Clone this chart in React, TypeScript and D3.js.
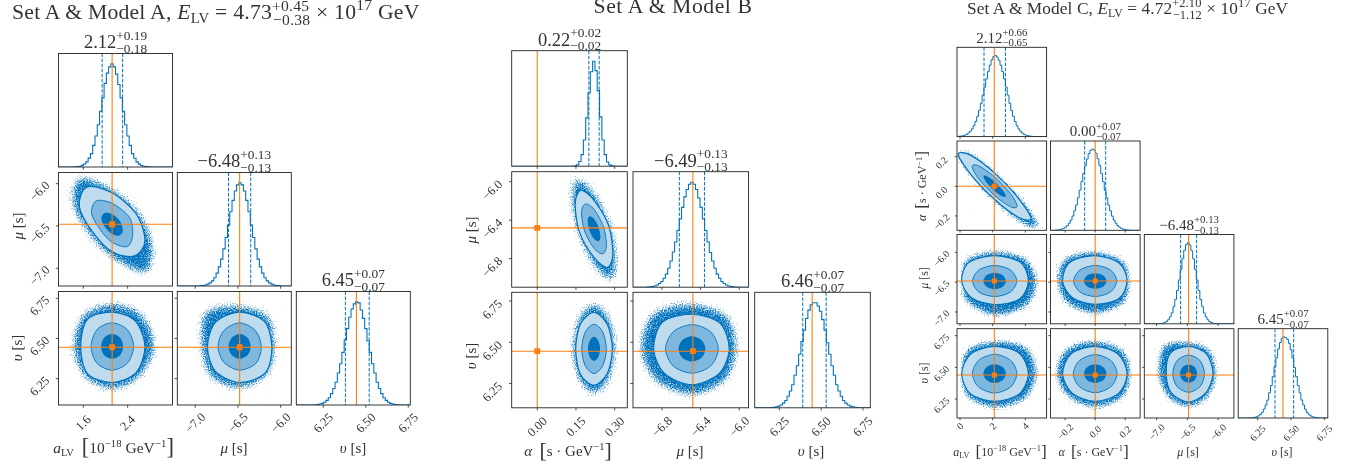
import * as d3 from 'd3';

// posterior medians and errors quoted in the panel titles
const medA = [2.12, -6.48, 6.45];
const plusA = [0.19, 0.13, 0.07];
const minusA = [0.18, 0.13, 0.07];
const truthA = [2.12, -6.48, 6.445];
const sigmaA = [0.185, 0.13, 0.07];
const rangesA = [[1.152, 3.21], [-7.21, -5.875], [6.091, 6.762]];
const rangesYA = [[0, 0], [-7.21, -5.868], [6.086, 6.792]];
const ticksA = [[1.6, 2.4], [-7.0, -6.5, -6.0], [6.25, 6.5, 6.75]];
const decimalsA = [1, 1, 2];

const medB = [0.22, -6.49, 6.46];
const plusB = [0.02, 0.13, 0.07];
const minusB = [0.02, 0.13, 0.07];
const truthB = [0, -6.48, 6.446];
const sigmaB = [0.0235, 0.13, 0.07];
const rangesB = [[-0.099, 0.349], [-7.1, -5.903], [6.1025, 6.794]];
const rangesYB = [[0, 0], [-7.097, -5.896], [6.103, 6.803]];
const ticksB = [[0, 0.15, 0.3], [-6.8, -6.4, -6.0], [6.25, 6.5, 6.75]];
const decimalsB = [2, 1, 2];

const medC = [2.12, 0.0, -6.48, 6.45];
const plusC = [0.66, 0.07, 0.13, 0.07];
const minusC = [0.65, 0.07, 0.13, 0.07];
const truthC = [2.1, 0, -6.48, 6.44];
const sigmaC = [0.655, 0.07, 0.13, 0.07];
const rangesC = [[-0.184, 5.3], [-0.2975, 0.299], [-7.2, -5.744], [6.104, 6.776]];
const rangesYC = [[0, 0], [-0.297, 0.306], [-7.198, -5.7], [6.1, 6.805]];
const ticksC = [[0, 2, 4], [-0.2, 0, 0.2], [-7.0, -6.5, -6.0], [6.25, 6.5, 6.75]];
const decimalsC = [0, 1, 1, 2];

// 50-bin marginals, % of the tallest bin; bins past the end of a list are empty
const histA0 = [0, 0, 0, 0, 0, 0, 0, 0.1, 0.4, 0.8, 1.6, 2.9, 5, 8.6, 13, 21, 30, 41, 54, 67, 81, 91, 97, 100, 97, 90, 80, 67, 54, 41, 30, 21, 13, 8.5, 5, 2.8, 1.5, 0.8, 0.4, 0.2];
const histA1 = [0, 0, 0, 0, 0, 0, 0, 0, 0, 0, 0.2, 0.5, 1, 1.8, 3, 5, 8, 12.5, 18.5, 26, 36, 47, 59, 72, 83, 92, 98, 100, 98, 92, 83, 72, 59, 47, 36, 26, 18.5, 12.5, 8, 5, 3, 1.8, 1, 0.5, 0.2];
const histA2 = [0, 0, 0, 0, 0, 0, 0, 0, 0.2, 0.5, 0.9, 1.6, 2.7, 4.5, 7, 11, 16, 22, 31, 40, 51, 63, 74, 85, 93, 98, 100, 99, 92, 84, 74, 62, 51, 40, 31, 22, 16, 11, 7, 4.5, 2.7, 1.6, 0.9, 0.5, 0.2];
const histB0 = [0, 0, 0, 0, 0, 0, 0, 0, 0, 0, 0, 0, 0, 0, 0, 0, 0, 0, 0, 0, 0, 0, 0, 0, 0, 0, 0, 0.3, 1.3, 4.5, 11, 25, 46, 70, 90, 100, 91, 72, 47, 25, 11, 4, 1.3, 0.3];
const histB1 = [0, 0, 0, 0, 0, 0, 0.1, 0.3, 0.7, 1.2, 2.1, 3.5, 5.5, 8.5, 12.5, 18, 25, 33.5, 43, 54, 65, 76, 86, 93, 98, 100, 98, 93, 85, 76, 65, 54, 43, 33, 25, 18, 12.5, 8.5, 5.5, 3.5, 2.1, 1.2, 0.7, 0.3, 0.1];
const histB2 = [0, 0, 0, 0, 0, 0, 0, 0.2, 0.5, 0.9, 1.6, 2.7, 4.5, 7, 11, 16, 22, 31, 40, 51, 63, 74, 85, 93, 98, 100, 100, 97, 92, 84, 74, 62, 51, 40, 31, 22, 16, 11, 7, 4.5, 2.7, 1.6, 0.9, 0.5, 0.2];
const histC0 = [0.2, 0.4, 0.7, 1.1, 1.8, 2.9, 4.4, 6.6, 9.5, 13.5, 18.6, 25, 32, 41, 51, 61, 71, 80, 88, 94.6, 98.6, 100, 98, 94, 88, 80, 71, 61, 51, 41, 32, 25, 18.6, 13.5, 9.5, 6.6, 4.4, 2.9, 1.8, 1.1, 0.7, 0.4, 0.2];
const histC1 = [0, 0, 0, 0.3, 0.5, 0.9, 1.5, 2.5, 3.9, 5.9, 8.7, 12.5, 17.5, 24, 31, 40, 49.5, 60, 70, 79.5, 87.8, 94.4, 98.6, 100, 99, 95, 88, 80, 70, 60, 49, 40, 31, 24, 17.5, 12.5, 8.7, 5.9, 3.9, 2.5, 1.5, 0.9, 0.5, 0.3];
const histC2 = [0, 0, 0, 0, 0, 0, 0, 0, 0.2, 0.4, 0.8, 1.5, 2.8, 5, 8.5, 13.5, 21, 30, 41, 54, 67, 80, 90.6, 97.6, 100, 97, 90, 80, 67, 54, 41, 30, 21, 13.5, 8.5, 5, 2.8, 1.5, 0.8, 0.4, 0.2];
const histC3 = [0, 0, 0, 0, 0, 0, 0, 0.2, 0.5, 0.9, 1.6, 2.7, 4.5, 7, 11, 16, 22, 31, 40, 51, 63, 74, 85, 93, 98, 100, 99, 97, 92, 84, 74, 62, 51, 40, 31, 22, 16, 11, 7, 4.5, 2.7, 1.6, 0.9, 0.5, 0.2];

// contour radii in sigmas around the median, going E, NE, N, NW, W, SW, S, SE:
// inner, middle, outer contour, then the edge of the sample cloud
const ringsA_aMu = [[1.05, 1.1, 1.05, 1.05, 1.05, 1, 1.05, 1.05], [2, 2.4, 2.2, 2.2, 2, 1.7, 1.9, 2.1], [3.2, 3.4, 3.3, 3.5, 3.2, 2.7, 2.9, 3], [4.5, 4.3, 4.2, 5, 4.4, 3.7, 4, 5.2]];
const rhoA_aMu = -0.5;
const ringsA_aV = [[1.08, 1.1, 1.1, 1.1, 1.08, 1.1, 1.1, 1.1], [2.1, 2.1, 2.1, 2.1, 2.05, 2.1, 2.1, 2.1], [3.2, 3.2, 3.05, 3.4, 3.07, 3.4, 3.2, 3.3], [4.7, 4.6, 4.3, 4.5, 4.3, 4.3, 4.3, 4.3]];
const ringsA_muV = [[1, 1.05, 1.1, 1.05, 1, 1.05, 1.1, 1.05], [1.95, 2, 2.1, 2, 1.95, 2, 2.1, 2.1], [2.9, 3.15, 3.05, 3.05, 2.9, 3.1, 3.2, 3.3], [3.6, 4.2, 4.1, 4.9, 3.9, 4.25, 4.2, 4]];

const ringsB_alMu = [[1.05, 1.1, 1.05, 1, 1.05, 1.1, 1.05, 1], [2.05, 2.2, 2.05, 2, 2.05, 2.2, 2.05, 2], [3.1, 3.4, 3, 3.1, 3.1, 3.4, 3, 3.1], [4.2, 4.4, 4.4, 4.6, 4.2, 4.3, 4.4, 4.7]];
const rhoB_alMu = -0.65;
const ringsB_alV = [[1, 1, 1.05, 1, 1, 1, 1.05, 1], [2.03, 2.05, 2.13, 2.05, 2.03, 2.05, 2.13, 2.05], [3.02, 3.05, 3.15, 3.1, 3.02, 3.15, 3.15, 3.05], [4, 4.2, 4.45, 4.2, 4, 4.1, 4.45, 4.1]];
const ringsB_muV = [[1.07, 1.08, 1.09, 1.08, 1.07, 1.08, 1.09, 1.08], [2.1, 2.1, 2.1, 2.1, 2.1, 2.1, 2.1, 2.1], [2.97, 3.15, 3, 3.3, 3.05, 3.05, 3.1, 3.05], [4, 4.5, 4.4, 4.9, 4.6, 4.5, 4.5, 4.3]];

const ringsC_aAl = [[1.05, 1.05, 1.05, 1.05, 1.05, 1.05, 1.05, 1.05], [2.1, 2.1, 2.1, 2.1, 2.1, 2.1, 2.1, 2.1], [3.4, 3, 3, 3.2, 3.4, 3, 3, 3.2], [4.7, 3.8, 3.7, 3.9, 3.8, 3.6, 3.7, 4.5]];
const rhoC_aAl = -0.905;
const ringsC_aMu = [[1.05, 1.06, 1.07, 1.06, 1.05, 1.06, 1.07, 1.06], [2.07, 2.05, 2, 2.05, 2.07, 2.05, 2, 2.05], [3.15, 3.4, 3.27, 3.4, 3.08, 3.05, 3.05, 3.3], [4.4, 4.6, 4.35, 4.3, 3.4, 4.2, 5, 4.9]];
const ringsC_alMu = [[1.07, 1.05, 1, 1.05, 1.07, 1.05, 1, 1.05], [2.05, 2.03, 2, 2.03, 2.05, 2.03, 2, 2.03], [3.03, 3.25, 3.27, 3.4, 3.1, 3.05, 3, 3.2], [3.6, 4.2, 4.26, 4.6, 4, 4.4, 4.77, 4.4]];
const ringsC_muV = [[1.08, 1.05, 1.02, 1.05, 1.08, 1.05, 1.02, 1.05], [1.98, 2.05, 2.1, 2.05, 1.98, 2.05, 2.1, 2.05], [3.05, 3.15, 3.08, 3.25, 2.8, 3.05, 3.2, 3.05], [3.9, 4.2, 4, 5, 4.25, 4.2, 4.25, 4]];
const ringsC_aV = [[1.05, 1.05, 1.05, 1.05, 1.05, 1.05, 1.05, 1.05], [2.07, 2.12, 2.18, 2.12, 2.07, 2.12, 2.18, 2.12], [3.15, 3.25, 3.08, 3.15, 3.08, 3.2, 3.12, 3.25], [4.4, 4.7, 4.14, 4.2, 3.4, 4.1, 4.33, 4.5]];
const ringsC_alV = [[1.07, 1.06, 1.05, 1.06, 1.07, 1.06, 1.05, 1.06], [2.08, 2.1, 2.15, 2.1, 2.08, 2.1, 2.15, 2.1], [3.03, 3.1, 3.08, 3.2, 3.1, 3.1, 3.12, 3.15], [3.76, 4.2, 4.14, 4.4, 4.14, 4.1, 4.33, 4.2]];

const BLUE = '#0072bd';
const MID = '#7fb8de';
const LIGHT = '#bfdcef';
const ORANGE = '#ff7f0e';
const INK = '#333';
const FONT = '"Liberation Serif", serif';
// the grain filter spreads past its path, so the cloud path sits inside the read edge
const CLOUD_INSET = 0.9;

type Seg = { t: string; s?: number; o?: number; i?: boolean; dx?: number };

const charWidth = (c: string) => (c === '.' ? 0.25 : c === '+' || c === '\u2212' ? 0.564 : 0.5);
const textWidth = (t: string) => d3.sum(Array.from(t), charWidth);
const minus = (t: string) => t.replace('-', '\u2212');

// one line of text with sizes and baseline shifts, o is measured from the line's baseline
function Rich({ segs, x, y, fs, anchor = 'start', rotate = 0, spacing = 0 }: { segs: Seg[]; x: number; y: number; fs: number; anchor?: string; rotate?: number; spacing?: number }) {
  let prev = 0;
  return (
    <text x={x} y={y} fontSize={fs} fontFamily={FONT} fill={INK} textAnchor={anchor} letterSpacing={spacing} transform={rotate ? `rotate(${rotate},${x},${y})` : undefined} style={{ whiteSpace: 'pre' }}>
      {segs.map((g, i) => {
        const o = (g.o ?? 0) * fs;
        const dy = o - prev;
        prev = o;
        return (
          <tspan key={i} dy={dy} dx={g.dx ? g.dx * fs : undefined} fontSize={(g.s ?? 1) * fs} fontStyle={g.i ? 'italic' : 'normal'}>
            {g.t}
          </tspan>
        );
      })}
    </text>
  );
}

// stacked +err / -err after a number
const scripts = (plus: string, minusText: string, up = 0.46, down = 0.24, s = 0.72): Seg[] => [
  { t: plus, s, o: -up },
  { t: minusText, s, o: down, dx: -textWidth(plus) * s },
];

interface Layout {
  xs: number[];
  ys: number[];
  w: number;
  h: number;
  titleFs: number;
  titleGap: number;
  tickFs: number;
  tickLen: number;
  marker: number;
  xTickDy: number[];
  yTickDx: number;
  yTickDy: number;
  lineW: number;
  grain: string;
}

interface Pair {
  row: number;
  col: number;
  rings: number[][];
  rho?: number;
}

interface CornerProps {
  id: string;
  layout: Layout;
  med: number[];
  plus: number[];
  minusErr: number[];
  truth: number[];
  sigma: number[];
  ranges: number[][];
  rangesY: number[][];
  ticks: number[][];
  decimals: number[];
  hists: number[][];
  pairs: Pair[];
}

function ringPath(radii: number[], rho: number, cx: number, cy: number, sx: number, sy: number, xS: any, yS: any) {
  const s = Math.sqrt(1 - rho * rho);
  const pts = radii.map((r, k) => {
    const th = (k / radii.length) * 2 * Math.PI;
    const u = r * Math.cos(th);
    const w = r * Math.sin(th);
    return [xS(cx + u * sx), yS(cy + (rho * u + s * w) * sy)] as [number, number];
  });
  return d3.line().curve(d3.curveCardinalClosed.tension(0.1))(pts) as string;
}

function Corner({ id, layout: L, med, plus, minusErr, truth, sigma, ranges, rangesY, ticks, decimals, hists, pairs }: CornerProps) {
  const n = med.length;
  const xScale = (c: number) => d3.scaleLinear().domain(ranges[c]).range([L.xs[c], L.xs[c] + L.w]);
  const yScale = (r: number) => d3.scaleLinear().domain(rangesY[r]).range([L.ys[r] + L.h, L.ys[r]]);
  const square = d3.symbol().type(d3.symbolSquare).size(L.marker)() as string;

  const xTicks = (r: number, c: number) => {
    const x = xScale(c);
    const bottom = L.ys[r] + L.h;
    return ticks[c].map((t) => (
      <g key={t}>
        <line x1={x(t)} x2={x(t)} y1={bottom} y2={bottom + L.tickLen} stroke="#222" strokeWidth={0.8} />
        {r === n - 1 && (
          <text x={x(t)} y={bottom + L.xTickDy[c]} fontSize={L.tickFs} fontFamily={FONT} fill={INK} textAnchor="middle" dominantBaseline="central" transform={`rotate(-45,${x(t)},${bottom + L.xTickDy[c]})`}>
            {d3.format(`.${decimals[c]}f`)(t)}
          </text>
        )}
      </g>
    ));
  };

  return (
    <g>
      {/* titles go first so the white axes cut the lower script like in the original */}
      {med.map((m, i) => {
        const base = minus(m.toFixed(2));
        const up = `+${plus[i].toFixed(2)}`;
        const down = `\u2212${minusErr[i].toFixed(2)}`;
        const total = (textWidth(base) + textWidth(up) * 0.72) * L.titleFs;
        return <Rich key={i} x={L.xs[i] + L.w / 2 - total / 2} y={L.ys[i] - L.titleGap} fs={L.titleFs} segs={[{ t: base }, ...scripts(up, down)]} />;
      })}

      {hists.map((h, i) => {
        const x = xScale(i);
        const y = d3.scaleLinear().domain([0, 110]).range([L.ys[i] + L.h, L.ys[i]]);
        const step = (ranges[i][1] - ranges[i][0]) / 50;
        const bins = d3.range(51).map((b) => [ranges[i][0] + b * step, h[b] ?? 0] as [number, number]);
        const line = d3.line<[number, number]>().x((d) => x(d[0])).y((d) => y(d[1])).curve(d3.curveStepAfter);
        const clip = `${id}-h${i}`;
        return (
          <g key={i}>
            <clipPath id={clip}>
              <rect x={L.xs[i]} y={L.ys[i]} width={L.w} height={L.h} />
            </clipPath>
            <rect x={L.xs[i]} y={L.ys[i]} width={L.w} height={L.h} fill="#fff" />
            <g clipPath={`url(#${clip})`}>
              <path d={line(bins) as string} fill="none" stroke={BLUE} strokeWidth={L.lineW} />
              {[med[i] - minusErr[i], med[i] + plus[i]].map((q) => (
                <line key={q} x1={x(q)} x2={x(q)} y1={L.ys[i]} y2={L.ys[i] + L.h} stroke={BLUE} strokeWidth={1} strokeDasharray="3.5,1.6" />
              ))}
              <line x1={x(truth[i])} x2={x(truth[i])} y1={L.ys[i]} y2={L.ys[i] + L.h} stroke={ORANGE} strokeWidth={1.1} />
            </g>
            <rect x={L.xs[i]} y={L.ys[i]} width={L.w} height={L.h} fill="none" stroke="#222" strokeWidth={0.9} />
            {xTicks(i, i)}
          </g>
        );
      })}

      {pairs.map(({ row: r, col: c, rings, rho = 0 }) => {
        const x = xScale(c);
        const y = yScale(r);
        const clip = `${id}-p${r}${c}`;
        const path = (radii: number[]) => ringPath(radii, rho, med[c], med[r], sigma[c], sigma[r], x, y);
        return (
          <g key={clip}>
            <clipPath id={clip}>
              <rect x={L.xs[c]} y={L.ys[r]} width={L.w} height={L.h} />
            </clipPath>
            <rect x={L.xs[c]} y={L.ys[r]} width={L.w} height={L.h} fill="#fff" />
            <g clipPath={`url(#${clip})`}>
              <path d={path(rings[3].map((v) => v * CLOUD_INSET))} fill={BLUE} filter={`url(#${L.grain})`} />
              <path d={path(rings[2])} fill={LIGHT} stroke={BLUE} strokeWidth={1.2} />
              <path d={path(rings[1])} fill={MID} stroke={BLUE} strokeWidth={0.9} />
              <path d={path(rings[0])} fill={BLUE} />
              <line x1={x(truth[c])} x2={x(truth[c])} y1={L.ys[r]} y2={L.ys[r] + L.h} stroke={ORANGE} strokeWidth={1.1} />
              <line x1={L.xs[c]} x2={L.xs[c] + L.w} y1={y(truth[r])} y2={y(truth[r])} stroke={ORANGE} strokeWidth={1.1} />
              <path d={square} fill={ORANGE} transform={`translate(${x(truth[c])},${y(truth[r])})`} />
            </g>
            <rect x={L.xs[c]} y={L.ys[r]} width={L.w} height={L.h} fill="none" stroke="#222" strokeWidth={0.9} />
            {xTicks(r, c)}
            {ticks[r].map((t) => (
              <g key={t}>
                <line x1={L.xs[c] - L.tickLen} x2={L.xs[c]} y1={y(t)} y2={y(t)} stroke="#222" strokeWidth={0.8} />
                {c === 0 && (
                  <text x={L.xs[c] + L.yTickDx} y={y(t) + L.yTickDy} fontSize={L.tickFs} fontFamily={FONT} fill={INK} textAnchor="middle" dominantBaseline="central" transform={`rotate(-45,${L.xs[c] + L.yTickDx},${y(t) + L.yTickDy})`}>
                    {d3.format(`.${decimals[r]}f`)(t)}
                  </text>
                )}
              </g>
            ))}
          </g>
        );
      })}
    </g>
  );
}

const layoutA: Layout = { xs: [58.5, 177.3, 296.3], ys: [53.5, 172.5, 291.5], w: 114, h: 113.5, titleFs: 18.5, titleGap: 5.2, tickFs: 12.5, tickLen: 2.7, marker: 34, xTickDy: [18, 18, 18], yTickDx: -18.8, yTickDy: 7.5, lineW: 1.1, grain: 'grain' };
const layoutB: Layout = { xs: [511.7, 633, 754.7], ys: [50.7, 171.7, 292.3], w: 115.6, h: 115.5, titleFs: 18.5, titleGap: 5.2, tickFs: 12.5, tickLen: 2.7, marker: 34, xTickDy: [19, 19, 19], yTickDx: -19.4, yTickDy: 8.5, lineW: 1.1, grain: 'grain' };
const layoutC: Layout = { xs: [957, 1050.5, 1144.3, 1238.2], ys: [47.3, 141, 234.5, 328.7], w: 89.6, h: 89.3, titleFs: 15, titleGap: 4.6, tickFs: 10, tickLen: 2.2, marker: 24, xTickDy: [8, 13.7, 14, 15], yTickDx: -15.5, yTickDy: 6, lineW: 1, grain: 'grainSmall' };

const upsilon = '\u03c5';
const bracketS = 1.45;

const labelMu: Seg[] = [{ t: '\u03bc', i: true }, { t: ' [s]' }];
const labelV: Seg[] = [{ t: upsilon, i: true }, { t: ' [s]' }];
const labelA: Seg[] = [
  { t: 'a', i: true },
  { t: 'LV', s: 0.68, o: 0.17 },
  { t: '  ' },
  { t: '[', s: bracketS, o: 0.08 },
  { t: '10' },
  { t: '\u221218', s: 0.7, o: -0.36 },
  { t: ' GeV' },
  { t: '\u22121', s: 0.7, o: -0.36 },
  { t: ']', s: bracketS, o: 0.08 },
];
const labelAl: Seg[] = [
  { t: '\u03b1', i: true },
  { t: '  ' },
  { t: '[', s: bracketS, o: 0.08 },
  { t: 's \u00b7 GeV' },
  { t: '\u22121', s: 0.7, o: -0.36 },
  { t: ']', s: bracketS, o: 0.08 },
];

const titleHead = (name: string, value: string, up: string, down: string): Seg[] => [
  { t: name },
  { t: 'E', i: true },
  { t: 'LV', s: 0.68, o: 0.17 },
  { t: ` = ${value}` },
  ...scripts(up, down, 0.38, 0.28),
  { t: ' \u00d7 10' },
  { t: '17', s: 0.72, o: -0.4 },
  { t: ' GeV' },
];

// speckled fade for the loose samples outside the outer contour
function Grain({ id, blur }: { id: string; blur: number }) {
  return (
    <filter id={id} x="-25%" y="-25%" width="150%" height="150%" colorInterpolationFilters="sRGB">
      <feGaussianBlur in="SourceAlpha" stdDeviation={blur} result="soft" />
      <feTurbulence type="fractalNoise" baseFrequency="0.85" numOctaves="2" seed="4" result="noise" />
      <feComposite in="soft" in2="noise" operator="arithmetic" k1="0" k2="1.6" k3="2" k4="-1.62" result="mask" />
      <feFlood floodColor={BLUE} />
      <feComposite in2="mask" operator="in" />
    </filter>
  );
}

export default function App() {
  return (
    <svg width={1358} height={465} style={{ position: 'absolute', left: 0, top: 0, filter: 'blur(0.35px)' }}>
      <defs>
        <Grain id="grain" blur={5} />
        <Grain id="grainSmall" blur={3.5} />
      </defs>

      <Rich x={12} y={19} fs={21.7} spacing={0.22} segs={titleHead('Set A & Model A, ', '4.73', '+0.45', '\u22120.38')} />
      <Rich x={673} y={12.7} fs={21.7} spacing={0.55} anchor="middle" segs={[{ t: 'Set A & Model B' }]} />
      <Rich x={967} y={14} fs={17.3} spacing={0.1} segs={titleHead('Set A & Model C, ', '4.72', '+2.10', '\u22121.12')} />

      <Corner
        id="a"
        layout={layoutA}
        med={medA}
        plus={plusA}
        minusErr={minusA}
        truth={truthA}
        sigma={sigmaA}
        ranges={rangesA}
        rangesY={rangesYA}
        ticks={ticksA}
        decimals={decimalsA}
        hists={[histA0, histA1, histA2]}
        pairs={[
          { row: 1, col: 0, rings: ringsA_aMu, rho: rhoA_aMu },
          { row: 2, col: 0, rings: ringsA_aV },
          { row: 2, col: 1, rings: ringsA_muV },
        ]}
      />
      <Corner
        id="b"
        layout={layoutB}
        med={medB}
        plus={plusB}
        minusErr={minusB}
        truth={truthB}
        sigma={sigmaB}
        ranges={rangesB}
        rangesY={rangesYB}
        ticks={ticksB}
        decimals={decimalsB}
        hists={[histB0, histB1, histB2]}
        pairs={[
          { row: 1, col: 0, rings: ringsB_alMu, rho: rhoB_alMu },
          { row: 2, col: 0, rings: ringsB_alV },
          { row: 2, col: 1, rings: ringsB_muV },
        ]}
      />
      <Corner
        id="c"
        layout={layoutC}
        med={medC}
        plus={plusC}
        minusErr={minusC}
        truth={truthC}
        sigma={sigmaC}
        ranges={rangesC}
        rangesY={rangesYC}
        ticks={ticksC}
        decimals={decimalsC}
        hists={[histC0, histC1, histC2, histC3]}
        pairs={[
          { row: 1, col: 0, rings: ringsC_aAl, rho: rhoC_aAl },
          { row: 2, col: 0, rings: ringsC_aMu },
          { row: 2, col: 1, rings: ringsC_alMu },
          { row: 3, col: 0, rings: ringsC_aV },
          { row: 3, col: 1, rings: ringsC_alV },
          { row: 3, col: 2, rings: ringsC_muV },
        ]}
      />

      {/* axis labels */}
      <Rich x={113.5} y={453} fs={15.5} anchor="middle" segs={labelA} />
      <Rich x={234} y={453} fs={15} anchor="middle" segs={labelMu} />
      <Rich x={353} y={453} fs={15} anchor="middle" segs={labelV} />
      <Rich x={23} y={226} fs={15} anchor="middle" rotate={-90} segs={labelMu} />
      <Rich x={22} y={348} fs={15} anchor="middle" rotate={-90} segs={labelV} />

      <Rich x={568} y={455.7} fs={15} anchor="middle" segs={labelAl} />
      <Rich x={690} y={455.7} fs={15} anchor="middle" segs={labelMu} />
      <Rich x={811} y={455.7} fs={15} anchor="middle" segs={labelV} />
      <Rich x={476} y={230} fs={15} anchor="middle" rotate={-90} segs={labelMu} />
      <Rich x={476} y={356} fs={15} anchor="middle" rotate={-90} segs={labelV} />

      <Rich x={1000} y={455.7} fs={12} anchor="middle" segs={labelA} />
      <Rich x={1093.7} y={455.7} fs={12} anchor="middle" segs={labelAl} />
      <Rich x={1188} y={455.7} fs={12} anchor="middle" segs={labelMu} />
      <Rich x={1282} y={455.7} fs={12} anchor="middle" segs={labelV} />
      <Rich x={926} y={186} fs={12} anchor="middle" rotate={-90} segs={labelAl} />
      <Rich x={928} y={278} fs={12} anchor="middle" rotate={-90} segs={labelMu} />
      <Rich x={928} y={373} fs={12} anchor="middle" rotate={-90} segs={labelV} />
    </svg>
  );
}
